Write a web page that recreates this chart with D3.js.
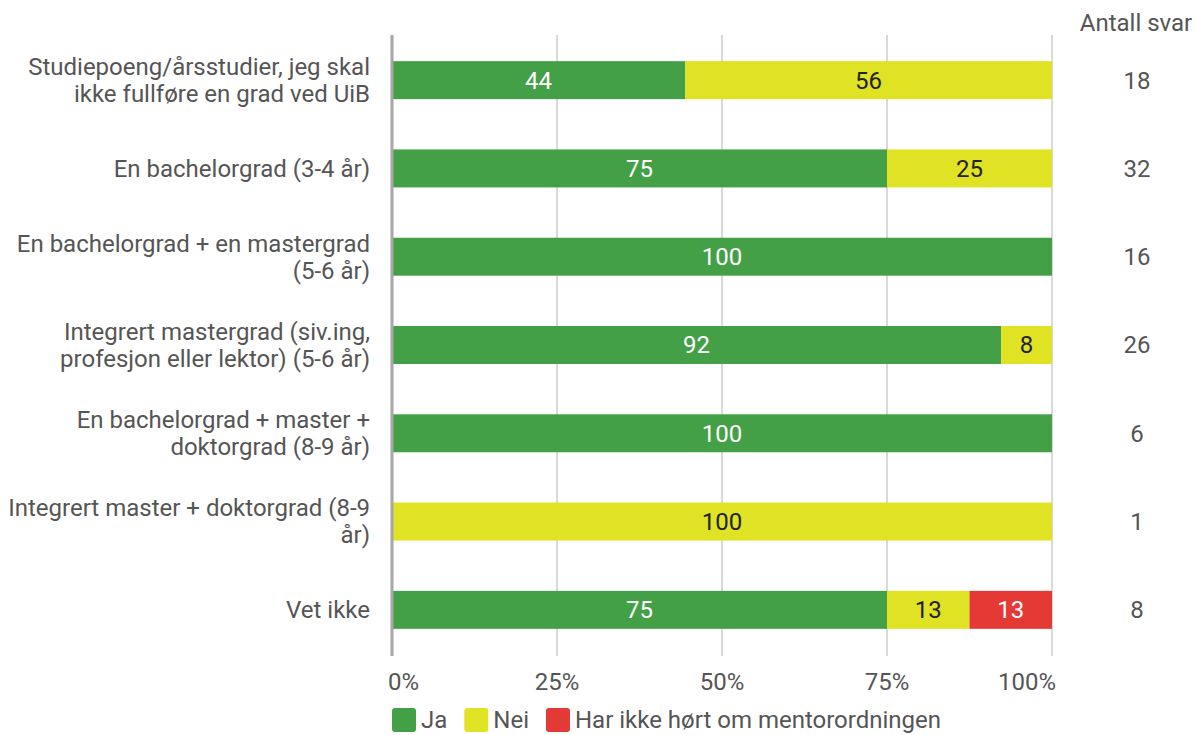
<!DOCTYPE html>
<html>
<head>
<meta charset="utf-8">
<script src="https://cdn.jsdelivr.net/npm/d3@7"></script>
<style>
  body { margin: 0; background: #fff; }
  svg text { font-family: Roboto, "Noto Sans", sans-serif; }
</style>
</head>
<body>
<div id="chart"></div>
<script>
// categories (line breaks as in the original)
var categories = [
  "Studiepoeng/årsstudier, jeg skal\nikke fullføre en grad ved UiB",
  "En bachelorgrad (3-4 år)",
  "En bachelorgrad + en mastergrad\n(5-6 år)",
  "Integrert mastergrad (siv.ing,\nprofesjon eller lektor) (5-6 år)",
  "En bachelorgrad + master +\ndoktorgrad (8-9 år)",
  "Integrert master + doktorgrad (8-9\når)",
  "Vet ikke"
];
var ja    = [44.4, 75, 100, 92.3, 100, 0, 75];
var nei   = [55.6, 25, 0, 7.7, 0, 100, 12.5];
var harIkke = [0, 0, 0, 0, 0, 0, 12.5];
var antallSvar = [18, 32, 16, 26, 6, 1, 8];
var seriesNames = ["Ja", "Nei", "Har ikke hørt om mentorordningen"];
var xTicks = [0, 25, 50, 75, 100];

var colors = ["#43a047", "#e0e224", "#e53935"];
var labelColors = ["#ffffff", "#222222", "#ffffff"];

var width = 1202, height = 735;
var fontSize = 24;
var textColor = "#555555";

var svg = d3.select("#chart").append("svg")
  .attr("width", width)
  .attr("height", height);

var x = d3.scaleLinear().domain([0, 100]).range([392, 1052]);
var y = d3.scaleBand().domain(categories).range([36, 654])
  .paddingInner(0.57).paddingOuter(0.285);

// grid lines
svg.append("g")
  .selectAll("line")
  .data(xTicks.slice(1))
  .enter().append("line")
  .attr("x1", function(d) { return x(d); })
  .attr("x2", function(d) { return x(d); })
  .attr("y1", 35)
  .attr("y2", 656)
  .attr("stroke", "#b3b3b3")
  .attr("stroke-width", 1);

// stacked data
var rows = categories.map(function(c, i) {
  return { cat: c, vals: [ja[i], nei[i], harIkke[i]] };
});

var segs = [];
rows.forEach(function(r) {
  var acc = 0;
  r.vals.forEach(function(v, k) {
    if (v > 0) segs.push({ cat: r.cat, k: k, x0: acc, x1: acc + v, v: v });
    acc += v;
  });
});

svg.append("g")
  .selectAll("rect")
  .data(segs)
  .enter().append("rect")
  .attr("x", function(d) { return x(d.x0); })
  .attr("width", function(d) { return x(d.x1) - x(d.x0); })
  .attr("y", function(d) { return y(d.cat); })
  .attr("height", y.bandwidth())
  .attr("fill", function(d) { return colors[d.k]; });

svg.append("g")
  .selectAll("text")
  .data(segs)
  .enter().append("text")
  .attr("x", function(d) { return x((d.x0 + d.x1) / 2); })
  .attr("y", function(d) { return y(d.cat) + y.bandwidth() / 2; })
  .attr("dy", "0.35em")
  .attr("text-anchor", "middle")
  .attr("font-size", fontSize)
  .attr("fill", function(d) { return labelColors[d.k]; })
  .text(function(d) { return Math.round(d.v); });

// left axis line
svg.append("line")
  .attr("x1", x(0)).attr("x2", x(0))
  .attr("y1", 35).attr("y2", 656)
  .attr("stroke", "#a6a6a6")
  .attr("stroke-width", 3);

// x tick labels (first start-aligned, last end-aligned)
svg.append("g")
  .selectAll("text")
  .data(xTicks)
  .enter().append("text")
  .attr("x", function(d, i) {
    if (i === 0) return x(d) - 4;
    if (i === xTicks.length - 1) return x(d) + 4;
    return x(d);
  })
  .attr("y", 682)
  .attr("dy", "0.35em")
  .attr("text-anchor", function(d, i) {
    if (i === 0) return "start";
    if (i === xTicks.length - 1) return "end";
    return "middle";
  })
  .attr("font-size", fontSize)
  .attr("fill", textColor)
  .text(function(d) { return d + "%"; });

// category labels
var catG = svg.append("g")
  .selectAll("text")
  .data(categories)
  .enter().append("text")
  .attr("text-anchor", "end")
  .attr("font-size", fontSize)
  .attr("fill", textColor)
  .attr("transform", function(d) {
    var n = d.split("\n").length;
    var cy = y(d) + y.bandwidth() / 2 - (n - 1) * 13.5;
    return "translate(370," + cy + ")";
  });
catG.selectAll("tspan")
  .data(function(d) { return d.split("\n"); })
  .enter().append("tspan")
  .attr("x", 0)
  .attr("y", function(d, i) { return i * 27; })
  .attr("dy", "0.35em")
  .text(function(d) { return d; });

// antall svar
svg.append("text")
  .attr("x", 1136).attr("y", 23)
  .attr("dy", "0.35em")
  .attr("text-anchor", "middle")
  .attr("font-size", fontSize)
  .attr("fill", textColor)
  .text("Antall svar");

svg.append("g")
  .selectAll("text")
  .data(antallSvar)
  .enter().append("text")
  .attr("x", 1137)
  .attr("y", function(d, i) { return y(categories[i]) + y.bandwidth() / 2; })
  .attr("dy", "0.35em")
  .attr("text-anchor", "middle")
  .attr("font-size", fontSize)
  .attr("fill", textColor)
  .text(function(d) { return d; });

// legend
var legend = svg.append("g").attr("transform", "translate(392,720)");
var lx = 0;
seriesNames.forEach(function(name, i) {
  var g = legend.append("g").attr("transform", "translate(" + lx + ",0)");
  g.append("rect")
    .attr("x", 0).attr("y", -12)
    .attr("width", 24).attr("height", 24)
    .attr("rx", 3)
    .attr("fill", colors[i]);
  var t = g.append("text")
    .attr("x", 29).attr("y", 0)
    .attr("dy", "0.35em")
    .attr("font-size", fontSize)
    .attr("fill", textColor)
    .text(name);
  lx += 29 + t.node().getComputedTextLength() + 17;
});
</script>
</body>
</html>
